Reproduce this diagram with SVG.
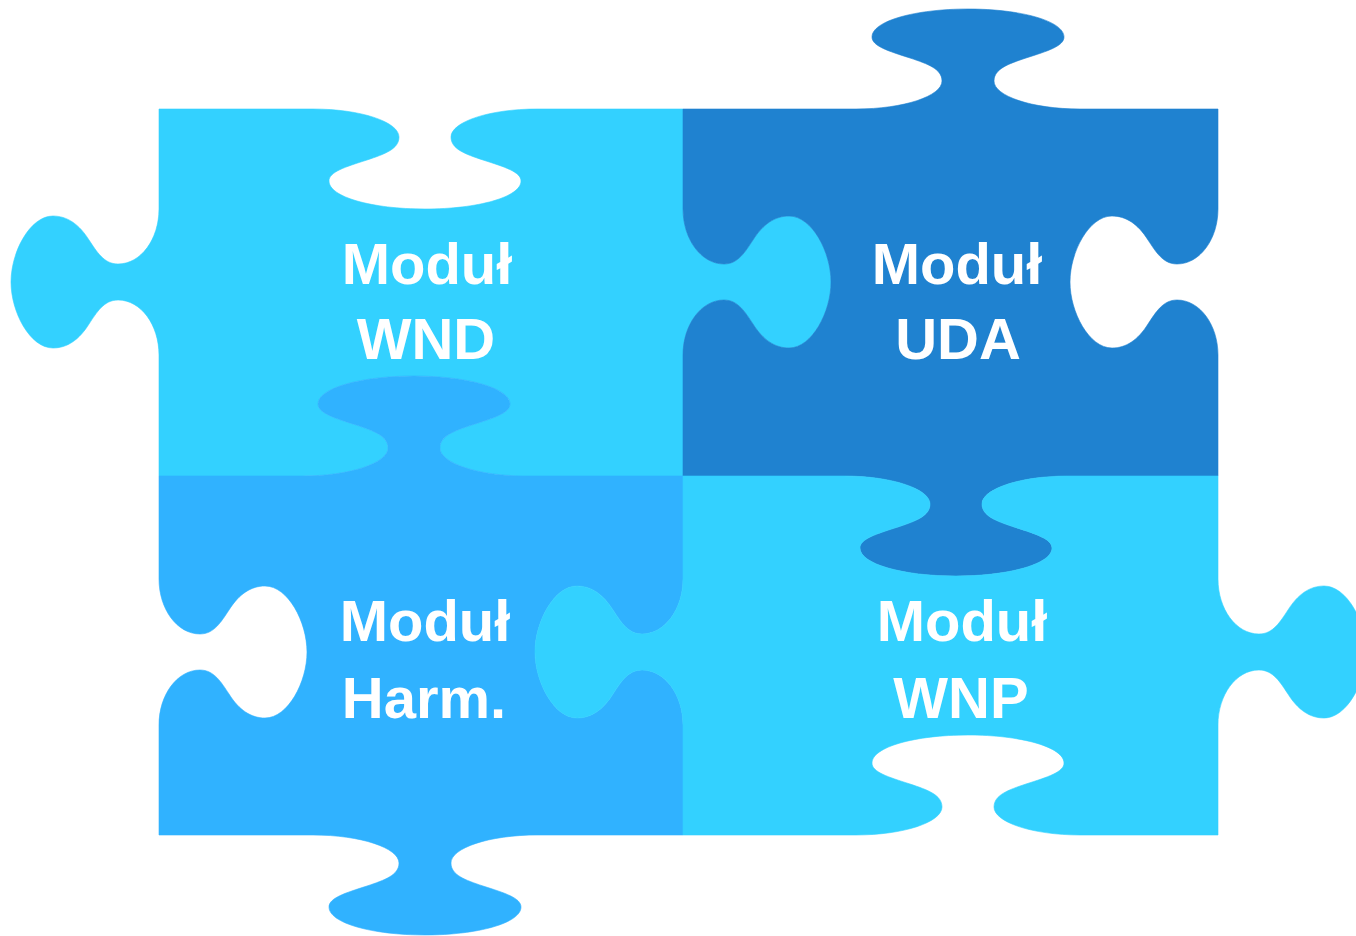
<svg xmlns="http://www.w3.org/2000/svg" width="1356" height="936" viewBox="0 0 1356 936">
<style>
.pa{fill:#33D1FF;stroke:#33D1FF;stroke-width:0.6}
.pb{fill:#1F82D0;stroke:#1F82D0;stroke-width:0.6}
.pc{fill:#30B2FF;stroke:#30B2FF;stroke-width:0.6}
.lbl{font-family:"Liberation Sans",Arial,sans-serif;font-weight:bold;font-size:58px;fill:#FFFFFF;text-anchor:middle}
</style>
<rect width="1356" height="936" fill="#FFFFFF"/>
<g id="piece-wnd">
<path class="pa" d="M159,109 L313,109 C361,109 399,122 399,137 C399,149 385,154 367,160 C345,167 329,172 329,181 C329,197 372,209 425,209 C478,209 521,197 521,181 C521,172 505,167 483,160 C465,154 451,149 451,137 C451,122 489,109 537,109 L683,109 L683,209 C683,239 701,264 724,264 C738,264 745,252 753,240 C763,224 775,216 789,216 C812,216 831,252 831,282 C831,312 812,348 789,348 C775,348 763,340 753,324 C745,312 738,300 724,300 C701,300 683,325 683,355 L683,476 L526,476 C478,476 440,463 440,448 C440,436 454,431 472,425 C494,418 510,413 510,404 C510,388 467,376 414,376 C361,376 318,388 318,404 C318,413 334,418 356,425 C374,431 388,436 388,448 C388,463 350,476 302,476 L159,476 L159,355 C159,325 141,300 118,300 C104,300 97,312 89,324 C79,340 67,348 53,348 C30,348 11,312 11,282 C11,252 30,216 53,216 C67,216 79,224 89,240 C97,252 104,264 118,264 C141,264 159,239 159,209 Z"/>
<text class="lbl" x="427" y="284">Moduł</text>
<text class="lbl" x="426" y="359">WND</text>
</g>
<g id="piece-uda">
<path class="pb" d="M683,109 L856,109 C904,109 942,96 942,81 C942,69 928,64 910,58 C888,51 872,46 872,37 C872,21 915,9 968,9 C1021,9 1064,21 1064,37 C1064,46 1048,51 1026,58 C1008,64 994,69 994,81 C994,96 1032,109 1080,109 L1218,109 L1218,209 C1218,239 1200,264 1177,264 C1163,264 1156,252 1148,240 C1138,224 1126,216 1112,216 C1089,216 1070,252 1070,282 C1070,312 1089,348 1112,348 C1126,348 1138,340 1148,324 C1156,312 1163,300 1177,300 C1200,300 1218,325 1218,355 L1218,476 L1068,476 C1020,476 982,489 982,504 C982,516 996,521 1014,527 C1036,534 1052,539 1052,548 C1052,564 1009,576 956,576 C903,576 860,564 860,548 C860,539 876,534 898,527 C916,521 930,516 930,504 C930,489 892,476 844,476 L683,476 L683,355 C683,325 701,300 724,300 C738,300 745,312 753,324 C763,340 775,348 789,348 C812,348 831,312 831,282 C831,252 812,216 789,216 C775,216 763,224 753,240 C745,252 738,264 724,264 C701,264 683,239 683,209 Z"/>
<text class="lbl" x="957" y="284">Moduł</text>
<text class="lbl" x="958" y="359">UDA</text>
</g>
<g id="piece-harm">
<path class="pc" d="M159,476 L302,476 C350,476 388,463 388,448 C388,436 374,431 356,425 C334,418 318,413 318,404 C318,388 361,376 414,376 C467,376 510,388 510,404 C510,413 494,418 472,425 C454,431 440,436 440,448 C440,463 478,476 526,476 L683,476 L683,579 C683,609 665,634 642,634 C628,634 621,622 613,610 C603,594 591,586 577,586 C554,586 535,622 535,652 C535,682 554,718 577,718 C591,718 603,710 613,694 C621,682 628,670 642,670 C665,670 683,695 683,725 L683,835 L537,835 C489,835 451,848 451,863 C451,875 465,880 483,886 C505,893 521,898 521,907 C521,923 478,935 425,935 C372,935 329,923 329,907 C329,898 345,893 367,886 C385,880 399,875 399,863 C399,848 361,835 313,835 L159,835 L159,725 C159,695 177,670 200,670 C214,670 221,682 229,694 C239,710 251,718 265,718 C288,718 307,682 307,652 C307,622 288,586 265,586 C251,586 239,594 229,610 C221,622 214,634 200,634 C177,634 159,609 159,579 Z"/>
<text class="lbl" x="425" y="641">Moduł</text>
<text class="lbl" x="424" y="718">Harm.</text>
</g>
<g id="piece-wnp">
<path class="pa" d="M683,476 L844,476 C892,476 930,489 930,504 C930,516 916,521 898,527 C876,534 860,539 860,548 C860,564 903,576 956,576 C1009,576 1052,564 1052,548 C1052,539 1036,534 1014,527 C996,521 982,516 982,504 C982,489 1020,476 1068,476 L1218,476 L1218,579 C1218,609 1236,634 1259,634 C1273,634 1280,622 1288,610 C1298,594 1310,586 1324,586 C1347,586 1366,622 1366,652 C1366,682 1347,718 1324,718 C1310,718 1298,710 1288,694 C1280,682 1273,670 1259,670 C1236,670 1218,695 1218,725 L1218,835 L1080,835 C1032,835 994,822 994,807 C994,795 1008,790 1026,784 C1048,777 1064,772 1064,763 C1064,747 1021,735 968,735 C915,735 872,747 872,763 C872,772 888,777 910,784 C928,790 942,795 942,807 C942,822 904,835 856,835 L683,835 L683,725 C683,695 665,670 642,670 C628,670 621,682 613,694 C603,710 591,718 577,718 C554,718 535,682 535,652 C535,622 554,586 577,586 C591,586 603,594 613,610 C621,622 628,634 642,634 C665,634 683,609 683,579 Z"/>
<text class="lbl" x="962" y="641">Moduł</text>
<text class="lbl" x="961" y="718">WNP</text>
</g>
<g id="connectors"/>
</svg>
